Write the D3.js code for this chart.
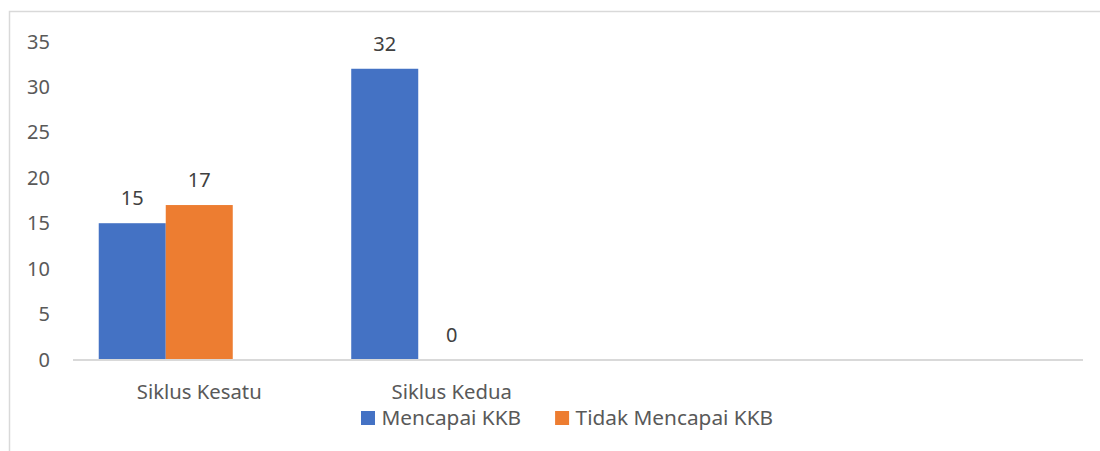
<!DOCTYPE html>
<html>
<head>
<meta charset="utf-8">
<script src="https://cdn.jsdelivr.net/npm/d3@7"></script>
<style>
  html, body { margin: 0; padding: 0; background: #fff; }
  svg { display: block; font-family: "Noto Sans", sans-serif; }
</style>
</head>
<body>
<div id="chart"></div>
<script>
const width = 1100;
const height = 451;

// categories (the last two are empty slots on the axis)
const categories = ['Siklus Kesatu', 'Siklus Kedua', '', ''];
const seriesNames = ['Mencapai KKB', 'Tidak Mencapai KKB'];
const mencapai = [15, 32];
const tidakMencapai = [17, 0];
const yTicks = [0, 5, 10, 15, 20, 25, 30, 35];
const colors = ['#4472C4', '#ED7D31'];

const plot = { left: 73, right: 1083, top: 41.5, bottom: 359.5 };

const svg = d3.select('#chart')
    .append('svg')
    .attr('width', width)
    .attr('height', height);

// chart frame
svg.append('path')
    .attr('d', `M9.5,${height}V11.5H${width}`)
    .attr('fill', 'none')
    .attr('stroke', '#d9d9d9')
    .attr('stroke-width', 1.5);

const x0 = d3.scaleBand()
    .domain(d3.range(categories.length))
    .range([plot.left, plot.right]);

// three slots per category, only two series are filled
const x1 = d3.scaleBand()
    .domain([0, 1, 2])
    .range([0, x0.bandwidth()])
    .paddingOuter(0.384);

const y = d3.scaleLinear()
    .domain([0, 35])
    .range([plot.bottom, plot.top]);

// y labels
svg.append('g')
    .selectAll('text')
    .data(yTicks)
    .join('text')
    .attr('x', 50)
    .attr('y', d => y(d))
    .attr('dy', '0.35em')
    .attr('text-anchor', 'end')
    .attr('font-size', 20)
    .attr('fill', '#595959')
    .text(d => d);

const values = [mencapai, tidakMencapai];
const barData = [];
values.forEach((vals, s) => {
    vals.forEach((v, c) => barData.push({ s, c, v }));
});

// bars
svg.append('g')
    .selectAll('rect')
    .data(barData)
    .join('rect')
    .attr('x', d => x0(d.c) + x1(d.s))
    .attr('width', x1.bandwidth())
    .attr('y', d => y(d.v))
    .attr('height', d => y(0) - y(d.v))
    .attr('fill', d => colors[d.s]);

// x axis line
svg.append('line')
    .attr('x1', plot.left)
    .attr('x2', plot.right)
    .attr('y1', y(0) + 0.5)
    .attr('y2', y(0) + 0.5)
    .attr('stroke', '#d9d9d9')
    .attr('stroke-width', 2);

// data labels
svg.append('g')
    .selectAll('text')
    .data(barData)
    .join('text')
    .attr('x', d => x0(d.c) + x1(d.s) + x1.bandwidth() / 2)
    .attr('y', d => y(d.v) - 18)
    .attr('text-anchor', 'middle')
    .attr('font-size', 20)
    .attr('fill', '#404040')
    .text(d => d.v);

// category labels
svg.append('g')
    .selectAll('text')
    .data(categories)
    .join('text')
    .attr('x', (d, i) => x0(i) + x0.bandwidth() / 2)
    .attr('y', 398.5)
    .attr('text-anchor', 'middle')
    .attr('font-size', 20.3)
    .attr('fill', '#595959')
    .text(d => d);

// legend
const legend = svg.append('g');
let lx = 361;
seriesNames.forEach((name, i) => {
    legend.append('rect')
        .attr('x', lx)
        .attr('y', 411)
        .attr('width', 14)
        .attr('height', 14)
        .attr('fill', colors[i]);
    const t = legend.append('text')
        .attr('x', lx + 20.5)
        .attr('y', 424.5)
        .attr('font-size', 20.8)
        .attr('fill', '#595959')
        .text(name);
    lx += 20.5 + t.node().getComputedTextLength() + 34;
});
</script>
</body>
</html>
